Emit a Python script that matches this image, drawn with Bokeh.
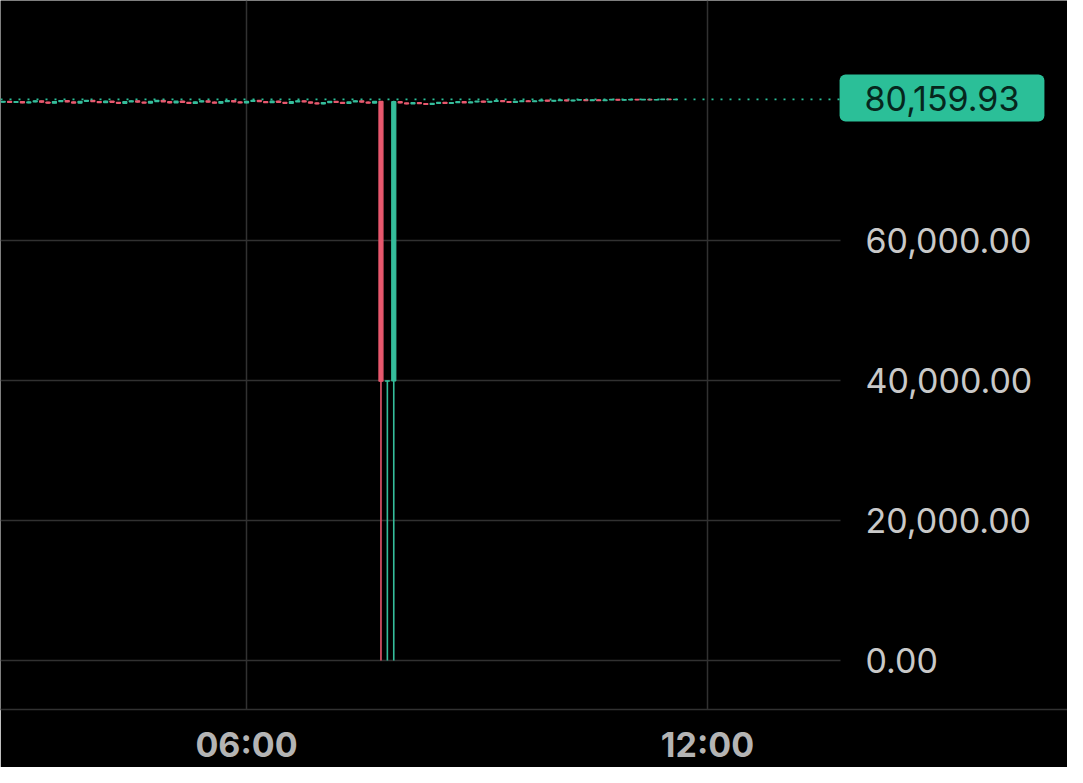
from bokeh.plotting import figure
from bokeh.models import ColumnDataSource, FixedTicker, Label, Range1d
from bokeh.embed import file_html
from bokeh.resources import INLINE
from bokeh.core.properties import value

# ---------------- data ----------------
start_time = "02:50"          # first 5-minute candle
interval_min = 5
first_open = 79760.0

closes = [
    # 02:50 - 07:40
    79880, 79720, 79850, 79650, 79800, 79950, 79760, 79620, 79840, 79990,
    79800, 79640, 79880, 80020, 79850, 79700, 79900, 79740, 79600, 79820,
    79960, 79780, 79640, 79860, 80000, 79820, 79680, 79900, 79720, 79580,
    79800, 79960, 79780, 79620, 79850, 79990, 79800, 79650, 79880, 80010,
    79840, 79690, 79900, 79740, 79600, 79820, 79960, 79790, 79640, 79520,
    79700, 79880, 79720, 79580, 79800, 79950, 79780, 79640, 79860,
    # 07:45 - 07:55 (flash crash)
    39900, 39960, 79820,
    # 08:00 - 11:35
    79650, 79520, 79680, 79560, 79440, 79600, 79720, 79580, 79700, 79820,
    79680, 79800, 79900, 79760, 79880, 79980, 79840, 79720, 79860, 79960,
    79830, 79940, 80040, 79900, 80000, 80080, 79950, 80060, 80120, 80000,
    80100, 79980, 80080, 80140, 80040, 80110, 80170, 80090, 80150, 80080,
    80130, 80180, 80120, 80159.93,
]

wick_up = [
    40, 60, 30, 50, 70, 40, 30, 60, 50, 40,
    30, 50, 60, 40, 30, 70, 50, 40, 60, 30,
    50, 40, 30, 60, 70, 40, 50, 30, 60, 40,
    50, 30, 40, 60, 50, 70, 30, 40, 50, 60,
    40, 30, 60, 50, 40, 30, 70, 50, 40, 60,
    30, 50, 40, 60, 30, 50, 40, 70, 30,
    60, 20, 130,
    50, 40, 60, 30, 50, 40, 60, 30, 40, 50,
    60, 40, 30, 50, 40, 60, 30, 50, 40, 30,
    60, 50, 40, 30, 50, 60, 40, 30, 50, 40,
    30, 60, 40, 50, 30, 40, 60, 30, 50, 40,
    30, 40, 50, 20,
]

wick_dn = [
    50, 40, 60, 30, 50, 40, 70, 50, 30, 60,
    40, 50, 30, 60, 40, 50, 30, 60, 50, 40,
    30, 60, 50, 40, 30, 50, 60, 40, 30, 70,
    40, 50, 60, 30, 40, 50, 60, 40, 30, 50,
    60, 40, 30, 50, 60, 40, 30, 50, 60, 40,
    50, 30, 60, 40, 50, 30, 60, 40, 50,
    39900, 39900, 39960,
    40, 60, 30, 50, 70, 40, 30, 50, 60, 40,
    30, 50, 40, 60, 30, 40, 50, 60, 30, 40,
    50, 30, 60, 40, 50, 30, 40, 60, 30, 50,
    40, 60, 30, 40, 50, 30, 60, 40, 30, 50,
    40, 30, 50, 30,
]

last_price = 80159.93
price_ticks = [0, 20000, 40000, 60000]
time_ticks = ["06:00", "12:00"]

# ---------------- derived ----------------
def to_min(s):
    h, m = s.split(":")
    return int(h) * 60 + int(m)

t0 = to_min(start_time)
xs = [t0 + i * interval_min for i in range(len(closes))]
opens = [first_open] + closes[:-1]
highs = [max(o, c) + w for o, c, w in zip(opens, closes, wick_up)]
lows = [min(o, c) - w for o, c, w in zip(opens, closes, wick_dn)]

UP = "#35bd9b"
DOWN = "#e8586e"
BOX = "#2bbf98"

def pick(cond):
    idx = [i for i in range(len(closes)) if cond(i)]
    return ColumnDataSource(dict(
        x=[xs[i] for i in idx],
        top=[max(opens[i], closes[i]) for i in idx],
        bottom=[min(opens[i], closes[i]) for i in idx],
        high=[highs[i] for i in idx],
        low=[lows[i] for i in idx],
    ))

up_src = pick(lambda i: closes[i] >= opens[i])
dn_src = pick(lambda i: closes[i] < opens[i])

# ---------------- layout ----------------
PX_PER_MIN = 461 / 360.0

def ref_x(px):
    return 360 + (px - 246) / PX_PER_MIN

def ref_y(py):
    return (660 - py) / 0.007

W, H = 1067, 767
FRAME_BOTTOM = 709
x0, x1 = ref_x(0), ref_x(W)
y0, y1 = ref_y(FRAME_BOTTOM), ref_y(0)

p = figure(width=W, height=H, output_backend="svg", toolbar_location=None,
           x_range=Range1d(x0, x1), y_range=Range1d(y0, y1),
           y_axis_location=None, min_border_left=0, min_border_right=0,
           min_border_top=0, min_border_bottom=H - FRAME_BOTTOM)
p.background_fill_color = "#000000"
p.border_fill_color = "#000000"
p.outline_line_color = None

tick_vals = [to_min(t) for t in time_ticks]
p.xgrid.ticker = FixedTicker(ticks=tick_vals)
p.xgrid.grid_line_color = "#313131"
p.xgrid.grid_line_width = 1.5
p.ygrid.grid_line_color = None

# horizontal gridlines (end before price scale)
p.segment(x0=[x0] * len(price_ticks), x1=[ref_x(840)] * len(price_ticks),
          y0=price_ticks, y1=price_ticks, line_color="#313131", line_width=1.5)

# x axis
p.xaxis.ticker = FixedTicker(ticks=tick_vals)
p.xaxis.major_label_overrides = {v: t for v, t in zip(tick_vals, time_ticks)}
p.xaxis.major_label_text_font = "Inter"
p.xaxis.major_label_text_font_size = "34px"
p.xaxis.major_label_text_font_style = "bold"
p.xaxis.major_label_text_color = "#b4b4b4"
p.xaxis.major_label_standoff = 14
p.xaxis.major_tick_out = 0
p.xaxis.major_tick_in = 0
p.xaxis.major_tick_line_color = None
p.xaxis.minor_tick_line_color = None
p.xaxis.axis_line_color = "#313131"
p.xaxis.axis_line_width = 1.5

# candles
w = interval_min * 0.62
for src, col in ((up_src, UP), (dn_src, DOWN)):
    p.segment(x0="x", x1="x", y0="low", y1="high", source=src,
              line_color=col, line_width=1.6)
    p.vbar(x="x", width=w, top="top", bottom="bottom", source=src,
           fill_color=col, line_color=col, line_width=1.3)

# last price dotted line
p.line(x=[x0, ref_x(840)], y=[last_price, last_price], line_color=BOX,
       line_width=1.7, line_dash="2 7")

# price scale labels
p.text(x=[ref_x(865)] * len(price_ticks), y=price_ticks,
       text=[f"{v:,.2f}" for v in price_ticks],
       text_align="left", text_baseline="middle",
       text_font=value("Inter"), text_font_size="34px", text_color="#c9c9c9")

# last price box
lbl = Label(x=ref_x(941.5), y=ref_y(97.5), text=f"{last_price:,.2f}",
            text_align="center", text_baseline="middle",
            text_font="Inter", text_font_size="34px", text_color="#06261d",
            background_fill_color=BOX, border_radius=6,
            padding=dict(left=25, right=25, top=11, bottom=11))
p.add_layout(lbl)

open("out.html", "w").write(file_html(p, INLINE))
